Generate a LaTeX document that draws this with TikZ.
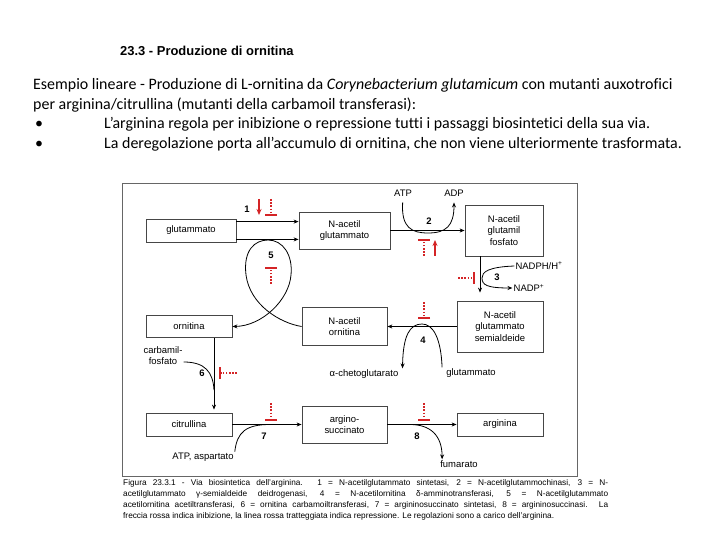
\documentclass[tikz,border=0pt]{standalone}
\usepackage{fontspec}
\setmainfont{Carlito}[Ligatures=NoCommon]
\newfontfamily\arialfont{Liberation Sans}
\usetikzlibrary{arrows.meta}
\definecolor{regred}{RGB}{212,36,38}
\definecolor{boxgray}{RGB}{70,70,70}
\tikzset{
  metab/.style={draw=boxgray, line width=0.8bp, align=center, inner sep=0pt,
    font=\arialfont\fontsize{9.5}{11.5}\selectfont},
  lbl/.style={font=\arialfont\fontsize{9.5}{11}\selectfont, inner sep=1bp, align=center},
  enz/.style={font=\arialfont\bfseries\fontsize{9.5}{11}\selectfont, inner sep=0pt},
  flux/.style={line width=0.8bp, -{Stealth[length=5bp,width=4bp]}},
  cofl/.style={line width=0.8bp},
  inib/.style={regred, line width=1.4bp, -{Stealth[length=6bp,width=5bp]}},
  repr/.style={regred, line width=1.4bp, dash pattern=on 1.6bp off 1.6bp,
    -{Bar[width=12bp,line width=2bp]}},
  para/.style={anchor=base west, inner sep=0pt, font=\fontsize{16}{19}\selectfont},
  capt/.style={anchor=base west, inner sep=0pt, font=\arialfont\fontsize{8.3}{10}\selectfont}
}
\begin{document}
\begin{tikzpicture}[x=1bp, y=-1bp]
  \useasboundingbox (0,0) rectangle (720,540);
  % Heading and text
  \node[anchor=base west, inner sep=0pt, font=\arialfont\bfseries\fontsize{13}{15}\selectfont]
    (title) at (120,56) {23.3 - Produzione di ornitina};
  \node[para] (par1) at (33,90) {Esempio lineare - Produzione di L-ornitina da \textit{Corynebacterium glutamicum} con mutanti auxotrofici};
  \node[para] (par2) at (33,109.5) {per arginina/citrullina (mutanti della carbamoil transferasi):};
  \node[para] (bul1) at (35,129) {•};
  \node[para] (par3) at (104,129) {L’arginina regola per inibizione o repressione tutti i passaggi biosintetici della sua via.};
  \node[para] (bul2) at (35,148.5) {•};
  \node[para] (par4) at (104,148.5) {La deregolazione porta all’accumulo di ornitina, che non viene ulteriormente trasformata.};

  % Frame
  \draw[black!60, line width=0.8bp] (122,183) rectangle (577,476);

  % Metabolites
  \node[metab, minimum width=90bp, minimum height=23bp] (glut) at (191,230.5) {glutammato};
  \node[metab, minimum width=91bp, minimum height=37bp] (nacglu) at (344.5,230.5) {N-acetil\\glutammato};
  \node[metab, minimum width=78bp, minimum height=51bp] (nacfos) at (504,230.5) {N-acetil\\glutamil\\fosfato};
  \node[metab, minimum width=86bp, minimum height=51bp] (semi) at (500,326.5) {N-acetil\\glutammato\\semialdeide};
  \node[metab, minimum width=85bp, minimum height=38bp] (nacorn) at (344.5,326.5) {N-acetil\\ornitina};
  \node[metab, minimum width=86bp, minimum height=22bp] (orn) at (189,326.5) {ornitina};
  \node[metab, minimum width=86bp, minimum height=23bp] (citr) at (189,424.5) {citrullina};
  \node[metab, minimum width=85bp, minimum height=37bp] (argsuc) at (344.5,424.5) {argino-\\succinato};
  \node[metab, minimum width=86bp, minimum height=23bp] (arg) at (500,424.5) {arginina};

  % Cofactors
  \node[lbl] (atp) at (403,193) {ATP};
  \node[lbl] (adp) at (454,193) {ADP};
  \node[lbl] (nadph) at (539,266) {NADPH/H\textsuperscript{+}};
  \node[lbl] (nadp) at (529,288) {NADP\textsuperscript{+}};
  \node[lbl] (achg) at (364,374) {α-chetoglutarato};
  \node[lbl] (glu2) at (471,373) {glutammato};
  \node[lbl] (carb) at (163,356) {carbamil-\\fosfato};
  \node[lbl] (atpasp) at (203,457) {ATP, aspartato};
  \node[lbl] (fum) at (459,464) {fumarato};

  % Enzymes
  \node[enz] (n1) at (247,209) {1};
  \node[enz] (n2) at (429,221) {2};
  \node[enz] (n3) at (497,277) {3};
  \node[enz] (n4) at (423,340) {4};
  \node[enz] (n5) at (271,255) {5};
  \node[enz] (n6) at (202,373) {6};
  \node[enz] (n7) at (264,436) {7};
  \node[enz] (n8) at (417,436) {8};

  % Main route
  \draw[flux] ([yshift=-3bp]glut.north east) -- ([yshift=-3bp]glut.north east -| nacglu.west);
  \draw[flux] ([yshift=3bp]glut.south east) -- ([yshift=3bp]glut.south east -| nacglu.west);
  \draw[flux] (nacglu.east) -- (nacfos.west);
  \draw[flux, shorten >=8bp] ([xshift=-24bp]nacfos.south) -- ([xshift=-24bp]nacfos.south |- semi.north);
  \draw[flux] (semi.west) -- (nacorn.east);
  \draw[flux] (nacorn.west) .. controls (280,323) and (250,305) .. (246,275)
    .. controls (243,250) and (255,240) .. (268,240)
    .. controls (283,240) and (293,255) .. (291,275)
    .. controls (289,300) and (262,326) .. (orn.east);
  \draw[flux, shorten >=3bp] ([xshift=25bp]orn.south) -- ([xshift=25bp]orn.south |- citr.north);
  \draw[flux] (citr.east) -- (argsuc.west);
  \draw[flux] (argsuc.east) -- (arg.west);

  % Side reactions
  \coordinate (j6) at (214,390);
  \coordinate (j7) at (270,424.5);
  \coordinate (j8) at (410,424.5);
  \draw[flux, shorten <=5bp, shorten >=5bp] (atp.south) .. controls (401,228) and (412,233) .. (428,233)
    .. controls (446,233) and (454,226) .. (adp.south);
  \draw[flux] (nadph.west) .. controls (488,267) and (482,272) .. (482,278)
    .. controls (482,285) and (487,288) .. (nadp.west);
  \draw[flux] ([xshift=-3bp]glu2.north west) .. controls (441,338) and (433,324) .. (422,324)
    .. controls (410,324) and (403,335) .. ([xshift=3bp]achg.north east);
  \draw[cofl] ([yshift=-6bp]carb.east) .. controls (205,362) and (213,372) .. (j6);
  \draw[cofl] (atpasp.north east) .. controls (237,432) and (246,424.5) .. (j7);
  \draw[flux] (j8) .. controls (430,424.5) and (442,435) .. ([xshift=3bp]fum.north west);

  % Regulation by arginine
  \foreach \xa/\ya/\xb/\yb in {271/199/271/216, 424/256/424/239, 458/278/475/278, 424/302/424/319,
      271/284/271/267, 237/373/219/373, 271/403/271/421, 424/403/424/421}
    \draw[repr] (\xa,\ya) -- (\xb,\yb);
  \draw[inib] (259,199) -- (259,215);
  \draw[inib] (435,256) -- (435,240);

  % Caption
  \node[capt] (cap1) at (123,485.5) {\makebox[485bp][s]{Figura 23.3.1 - Via biosintetica dell’arginina. 1 = N-acetilglutammato sintetasi, 2 = N-acetilglutammochinasi, 3 = N-}};
  \node[capt] (cap2) at (123,496.5) {\makebox[485bp][s]{acetilglutammato γ-semialdeide deidrogenasi, 4 = N-acetilornitina δ-amminotransferasi, 5 = N-acetilglutammato}};
  \node[capt] (cap3) at (123,507.5) {\makebox[485bp][s]{acetilornitina acetiltransferasi, 6 = ornitina carbamoiltransferasi, 7 = argininosuccinato sintetasi, 8 = argininosuccinasi. La}};
  \node[capt] (cap4) at (123,518.5) {freccia rossa indica inibizione, la linea rossa tratteggiata indica repressione. Le regolazioni sono a carico dell’arginina.};
\end{tikzpicture}
\end{document}
